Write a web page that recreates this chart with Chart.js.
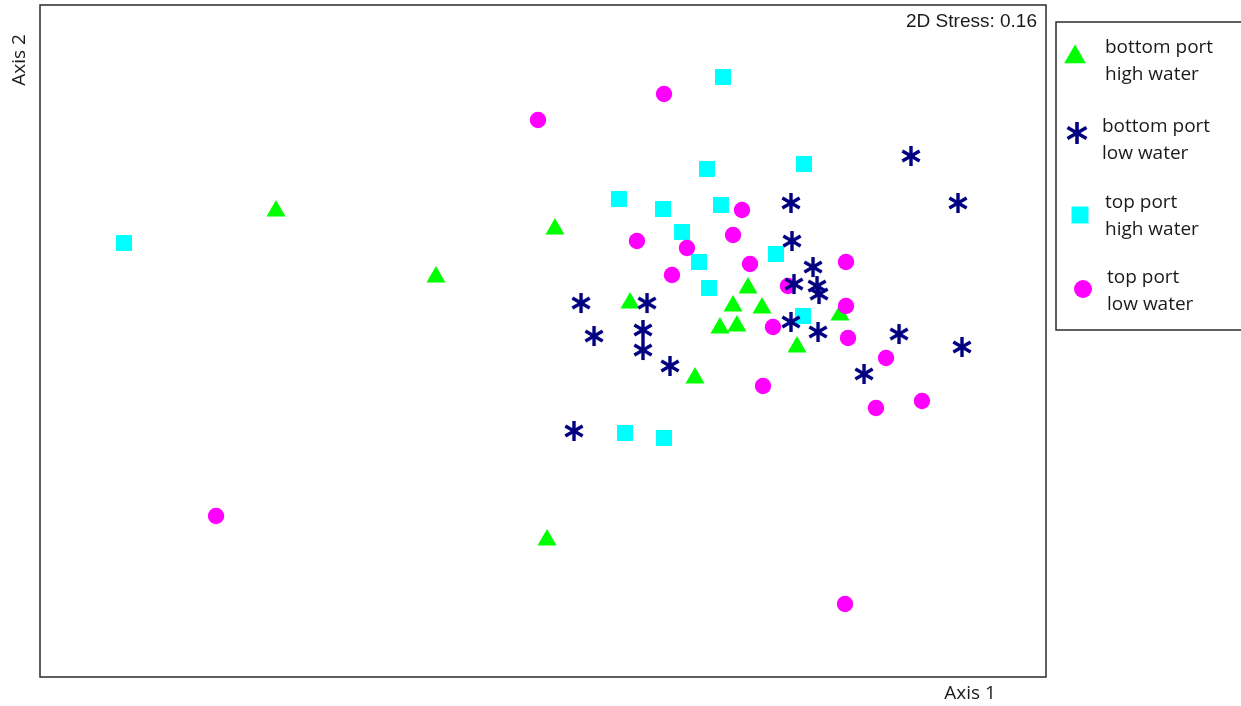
<!DOCTYPE html>
<html>
<head>
<meta charset="utf-8">
<script src="https://cdn.jsdelivr.net/npm/chart.js@4/dist/chart.umd.min.js"></script>
<style>
  html, body { margin: 0; padding: 0; background: #ffffff; }
  #wrap { width: 1241px; height: 706px; position: relative; }
</style>
</head>
<body>
<div id="wrap"><canvas id="nmds" width="1241" height="706"></canvas></div>
<script>
// NMDS ordination scores (Axis 1, Axis 2), one list per sample group
const groupLabels = [
  ['bottom port', 'high water'],
  ['bottom port', 'low water'],
  ['top port', 'high water'],
  ['top port', 'low water']
];

const bottomHigh = [
  [23.46, 69.35], [39.36, 59.52], [51.19, 66.67], [58.65, 55.65], [70.38, 57.89],
  [68.89, 55.21], [71.77, 54.91], [67.59, 51.93], [69.28, 52.23], [79.52, 53.87],
  [75.25, 49.11], [65.11, 44.49], [50.40, 20.39]
];

const bottomLow = [
  [86.58, 77.53], [74.65, 70.54], [91.25, 70.54], [74.75, 64.88], [76.84, 61.01],
  [74.95, 58.48], [77.24, 58.18], [77.44, 56.99], [53.78, 55.65], [60.34, 55.65],
  [55.07, 50.74], [59.94, 51.64], [59.94, 48.66], [62.62, 46.28], [74.65, 52.83],
  [77.34, 51.34], [85.39, 51.04], [91.65, 49.11], [81.91, 45.09], [53.08, 36.61]
];

const topHigh = [
  [67.89, 89.29], [8.35, 64.58], [66.30, 75.60], [75.94, 76.34], [57.55, 71.13],
  [61.93, 69.64], [67.69, 70.24], [63.82, 66.22], [65.51, 61.76], [73.16, 62.95],
  [66.50, 57.89], [75.84, 53.72], [58.15, 36.31], [62.03, 35.57]
];

const topLow = [
  [62.03, 86.76], [49.50, 82.89], [69.78, 69.49], [59.34, 64.88], [68.89, 65.77],
  [64.31, 63.84], [70.58, 61.46], [62.82, 59.82], [80.12, 61.76], [74.35, 58.18],
  [80.12, 55.21], [72.86, 52.08], [80.32, 50.45], [84.10, 47.47], [71.87, 43.30],
  [83.10, 40.03], [87.67, 41.07], [17.50, 23.96], [80.02, 10.86]
];

const stressText = '2D Stress: 0.16';
const axisTitles = ['Axis 1', 'Axis 2'];

const GREEN = '#00ff00';
const NAVY = '#000080';
const CYAN = '#00ffff';
const MAGENTA = '#ff00ff';

// six-armed asterisk marker drawn onto a small canvas
function makeAsterisk(size, arm, width) {
  const c = document.createElement('canvas');
  c.width = size; c.height = size;
  const g = c.getContext('2d');
  g.strokeStyle = NAVY;
  g.lineWidth = width;
  g.lineCap = 'butt';
  const m = size / 2;
  for (let k = 0; k < 3; k++) {
    const a = Math.PI / 2 + k * Math.PI / 3;
    g.beginPath();
    g.moveTo(m - Math.cos(a) * arm, m - Math.sin(a) * arm);
    g.lineTo(m + Math.cos(a) * arm, m + Math.sin(a) * arm);
    g.stroke();
  }
  return c;
}
const asteriskPoint = makeAsterisk(24, 10, 3.4);
const asteriskLegend = makeAsterisk(26, 11, 3.6);

const toXY = arr => arr.map(p => ({ x: p[0], y: p[1] }));

// plot frame, stress note, axis titles and the boxed legend
const decorations = {
  id: 'decorations',
  afterDraw(chart) {
    const ctx = chart.ctx;
    const a = chart.chartArea;
    ctx.save();
    ctx.strokeStyle = '#2b2b2b';
    ctx.lineWidth = 1.5;
    ctx.strokeRect(a.left, a.top, a.right - a.left, a.bottom - a.top);

    ctx.fillStyle = '#1a1a1a';
    ctx.font = '19px "Liberation Sans", Arial, sans-serif';
    ctx.textAlign = 'right';
    ctx.textBaseline = 'middle';
    ctx.fillText(stressText, a.right - 9, a.top + 17);

    ctx.font = '19px "Open Sans", sans-serif';
    ctx.textAlign = 'center';
    ctx.fillText(axisTitles[0], 970, a.bottom + 17);
    ctx.save();
    ctx.translate(20, 60);
    ctx.rotate(-Math.PI / 2);
    ctx.fillText(axisTitles[1], 0, 0);
    ctx.restore();

    // legend box
    const lx = 1056, ly = 22, lw = 200, lh = 308;
    ctx.strokeStyle = '#2b2b2b';
    ctx.lineWidth = 1.5;
    ctx.strokeRect(lx, ly, lw, lh);

    const rows = [
      { my: 54, ty: 48, tx: 1105, mx: 1075 },
      { my: 133, ty: 127, tx: 1102, mx: 1077 },
      { my: 215, ty: 203, tx: 1105, mx: 1080 },
      { my: 289, ty: 278, tx: 1107, mx: 1083 }
    ];
    const sets = chart.data.datasets;
    rows.forEach((r, i) => {
      const ds = sets[i];
      ctx.fillStyle = ds.backgroundColor;
      const style = i === 1 ? asteriskLegend : ds.pointStyle;
      const rad = i === 0 ? 12.5 : (i === 2 ? 12 : (i === 3 ? 9 : 10));
      Chart.helpers.drawPoint(ctx, { pointStyle: style, radius: rad, rotation: 0, borderWidth: 0 }, r.mx, i === 0 ? r.my + 3 : r.my);
      ctx.fillStyle = '#1a1a1a';
      ctx.font = '19px "Open Sans", sans-serif';
      ctx.textAlign = 'left';
      ctx.textBaseline = 'middle';
      const lines = ds.label;
      ctx.fillText(lines[0], r.tx, r.ty);
      ctx.fillText(lines[1], r.tx, r.ty + 27);
    });
    ctx.restore();
  }
};

new Chart(document.getElementById('nmds'), {
  type: 'scatter',
  data: {
    datasets: [
      { label: groupLabels[0], data: toXY(bottomHigh), pointStyle: 'triangle', pointRadius: 11, pointHoverRadius: 11,
        backgroundColor: GREEN, borderColor: GREEN, pointBorderWidth: 0, order: 3 },
      { label: groupLabels[1], data: toXY(bottomLow), pointStyle: asteriskPoint, pointRadius: 10, pointHoverRadius: 10,
        backgroundColor: NAVY, borderColor: NAVY, pointBorderWidth: 0, order: 0 },
      { label: groupLabels[2], data: toXY(topHigh), pointStyle: 'rect', pointRadius: 11.3, pointHoverRadius: 11.3,
        backgroundColor: CYAN, borderColor: CYAN, pointBorderWidth: 0, order: 2 },
      { label: groupLabels[3], data: toXY(topLow), pointStyle: 'circle', pointRadius: 8.2, pointHoverRadius: 8.2,
        backgroundColor: MAGENTA, borderColor: MAGENTA, pointBorderWidth: 0, order: 1 }
    ]
  },
  options: {
    responsive: false,
    animation: false,
    events: [],
    layout: { autoPadding: false, padding: { left: 40, top: 5, right: 195, bottom: 29 } },
    scales: {
      x: { type: 'linear', min: 0, max: 100, display: false },
      y: { type: 'linear', min: 0, max: 100, display: false }
    },
    plugins: {
      legend: { display: false },
      tooltip: { enabled: false }
    }
  },
  plugins: [decorations]
});
</script>
</body>
</html>
